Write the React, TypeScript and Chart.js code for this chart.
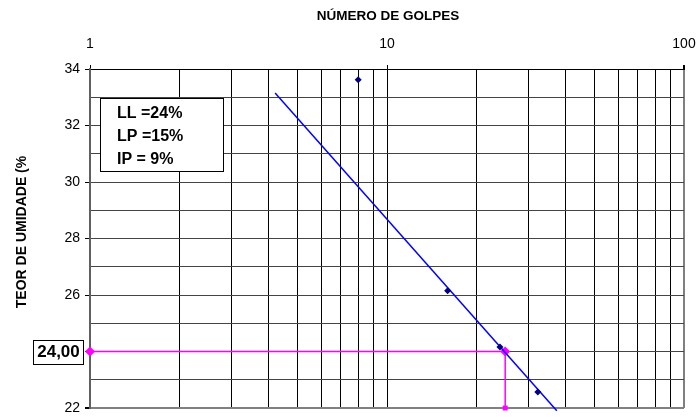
import React, { useEffect, useRef } from "react";
import { Chart, registerables } from "chart.js";

Chart.register(...registerables);

// Ensaio de limite de liquidez: número de golpes x teor de umidade
const golpes = [8, 16, 24, 32.2];
const umidade = [33.62, 26.15, 24.16, 22.57];

// Reta de ajuste (escala logarítmica)
const retaGolpes = [4.2, 37.3];
const retaUmidade = [33.15, 21.9];

// Leitura do LL a 25 golpes
const llGolpes = [1, 25, 25];
const llUmidade = [24, 24, 22];
const llRotulo = "24,00";

// Grade e rótulos dos eixos
const xGrade = [1, 2, 3, 4, 5, 6, 7, 8, 9, 10, 20, 30, 40, 50, 60, 70, 80, 90, 100];
const xRotulos = [1, 10, 100];
const yRotulos = [34, 32, 30, 28, 26, 22];

const indices = ["LL =24%", "LP =15%", "IP = 9%"];
const tituloX = "NÚMERO DE GOLPES";
const tituloY = "TEOR DE UMIDADE (%";

const FONT = "'Liberation Sans', Arial, sans-serif";

const anotacoes = {
  id: "anotacoes",
  afterDraw(chart: any) {
    const ctx = chart.ctx as CanvasRenderingContext2D;
    const yScale = chart.scales.y;
    ctx.save();

    // títulos
    ctx.fillStyle = "#000";
    ctx.font = `bold 13.5px ${FONT}`;
    ctx.textAlign = "center";
    ctx.textBaseline = "middle";
    ctx.fillText(tituloX, 388, 16);

    ctx.save();
    ctx.translate(22, 232);
    ctx.rotate(-Math.PI / 2);
    ctx.font = `bold 14px ${FONT}`;
    ctx.fillText(tituloY, 0, 0);
    ctx.restore();

    // caixa de índices
    ctx.fillStyle = "#fff";
    ctx.fillRect(100.5, 98.5, 123, 73);
    ctx.strokeStyle = "#000";
    ctx.lineWidth = 1;
    ctx.strokeRect(100.5, 98.5, 123, 73);
    ctx.fillStyle = "#000";
    ctx.font = `bold 16px ${FONT}`;
    ctx.textAlign = "left";
    ctx.textBaseline = "middle";
    indices.forEach((t, i) => ctx.fillText(t, 117, 114 + i * 23));

    // rótulo do LL no eixo y
    const yLL = yScale.getPixelForValue(llUmidade[0]);
    ctx.fillStyle = "#fff";
    ctx.fillRect(33.5, Math.round(yLL) - 11.5, 50, 24);
    ctx.strokeRect(33.5, Math.round(yLL) - 11.5, 50, 24);
    ctx.fillStyle = "#000";
    ctx.font = `bold 17px ${FONT}`;
    ctx.textAlign = "center";
    ctx.fillText(llRotulo, 58.5, yLL + 1);

    ctx.restore();
  },
};

export default function App() {
  const ref = useRef<HTMLCanvasElement | null>(null);

  useEffect(() => {
    if (!ref.current) return;
    const chart = new Chart(ref.current, {
      type: "scatter",
      data: {
        datasets: [
          {
            label: "LL",
            data: llGolpes.map((x, i) => ({ x, y: llUmidade[i] })),
            showLine: true,
            borderColor: "#FF00FF",
            backgroundColor: "#FF00FF",
            borderWidth: 1.5,
            pointStyle: ["rectRot", "rectRot", "rect"],
            pointRadius: [5, 5, 3.5],
            pointBorderWidth: 0,
            clip: false,
            order: 2,
          },
          {
            label: "Reta",
            data: retaGolpes.map((x, i) => ({ x, y: retaUmidade[i] })),
            showLine: true,
            borderColor: "#0000FF",
            borderWidth: 1.5,
            pointRadius: 0,
            clip: false,
            order: 1,
          },
          {
            label: "Ensaios",
            data: golpes.map((x, i) => ({ x, y: umidade[i] })),
            showLine: false,
            pointStyle: "rectRot",
            pointRadius: 3.5,
            pointBorderWidth: 0,
            backgroundColor: "#000080",
            borderColor: "#000080",
            clip: false,
            order: 0,
          },
        ],
      },
      options: {
        responsive: false,
        animation: false,
        devicePixelRatio: 1,
        layout: { padding: { left: 0, right: 12, top: 0, bottom: 9 } },
        plugins: { legend: { display: false }, tooltip: { enabled: false } },
        scales: {
          x: {
            type: "logarithmic",
            position: "top",
            min: 1,
            max: 100,
            afterBuildTicks: (s: any) => {
              s.ticks = xGrade.map((v) => ({ value: v }));
            },
            afterFit: (s: any) => {
              s.height = 69;
              s.paddingLeft = 0;
              s.paddingRight = 0;
            },
            ticks: {
              autoSkip: false,
              maxRotation: 0,
              padding: 12,
              color: "#000",
              font: { family: FONT, size: 14 },
              callback: (v: any) => (xRotulos.includes(Number(v)) ? String(v) : ""),
            },
            grid: {
              color: (c: any) => (c.tick && c.tick.value === 100 ? "#808080" : "#000"),
              lineWidth: (c: any) => (c.tick && c.tick.value === 100 ? 2 : 1),
              tickLength: 4,
              tickColor: (c: any) =>
                c.tick && xRotulos.includes(c.tick.value) ? "#000" : "rgba(0,0,0,0)",
            },
            border: { display: true, color: "#000", width: 1 },
          },
          y: {
            type: "linear",
            min: 22,
            max: 34,
            afterFit: (s: any) => {
              s.width = 90;
              s.paddingTop = 0;
              s.paddingBottom = 0;
            },
            ticks: {
              stepSize: 1,
              autoSkip: false,
              padding: 5,
              color: "#000",
              font: { family: FONT, size: 14 },
              callback: (v: any) => (yRotulos.includes(Number(v)) ? String(v) : ""),
            },
            grid: {
              color: (c: any) => (c.tick && c.tick.value === 22 ? "#808080" : "#444"),
              lineWidth: (c: any) => (c.tick && c.tick.value === 22 ? 2 : 1),
              tickLength: 5,
              tickColor: (c: any) =>
                c.tick && c.tick.value % 2 === 0 ? "#000" : "rgba(0,0,0,0)",
            },
            border: { display: true, color: "#606060", width: 2 },
          },
        },
      },
      plugins: [anotacoes],
    } as any);
    return () => chart.destroy();
  }, []);

  return (
    <div style={{ position: "fixed", left: 0, top: 0, width: 696, height: 417, background: "#fff" }}>
      <canvas ref={ref} width={696} height={417} style={{ display: "block" }} />
    </div>
  );
}
